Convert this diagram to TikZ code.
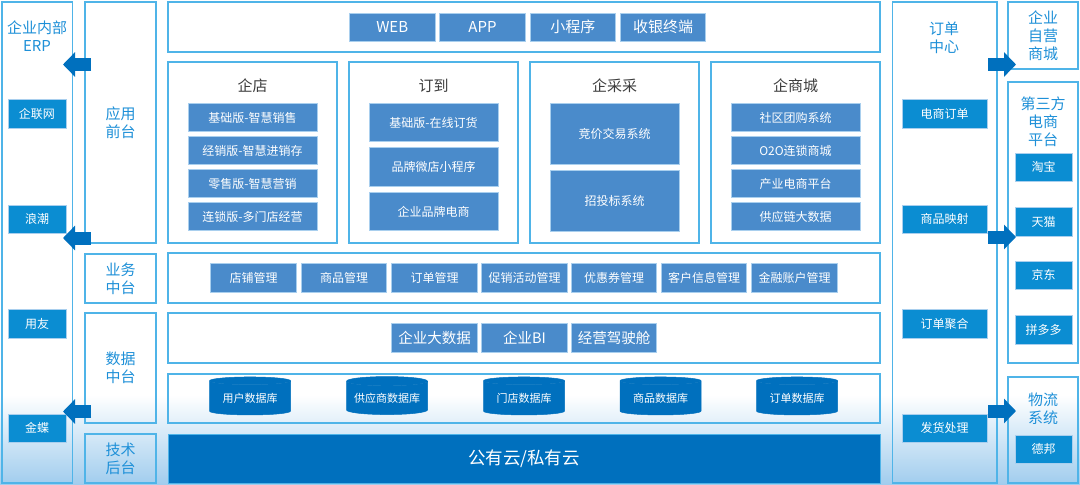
\documentclass[tikz,border=0pt]{standalone}
\usepackage{fontspec}
\usepackage{xcolor}
\setmainfont{Noto Sans CJK SC}
\usetikzlibrary{shapes.geometric, arrows.meta, positioning, calc}
\definecolor{framec}{HTML}{4FB4E8}
\definecolor{cellc}{HTML}{4A8BCB}
\definecolor{celledge}{HTML}{A9CFEE}
\definecolor{tealc}{HTML}{0B8DD2}
\definecolor{darkc}{HTML}{0070BE}
\definecolor{titlec}{HTML}{1E90D8}
\definecolor{headc}{HTML}{3C3C3C}
\tikzset{
  frame/.style={draw=framec, line width=1.2pt, inner sep=0pt, outer sep=0pt, text=titlec, align=center, font=\fontsize{15}{18}\selectfont},
  cell/.style={draw=celledge, line width=0.7pt, fill=cellc, text=white, inner sep=0pt, outer sep=0pt, font=\fontsize{12}{14}\selectfont},
  tealcell/.style={draw=celledge, line width=0.5pt, fill=tealc, text=white, inner sep=0pt, outer sep=0pt, minimum height=28.5pt, font=\fontsize{12}{14}\selectfont},
  heading/.style={text=headc, inner sep=0pt, font=\fontsize{15}{18}\selectfont},
  paneltitle/.style={text=titlec, inner sep=0pt, align=center, font=\fontsize{15}{18}\selectfont},
  database/.style={cylinder, shape border rotate=90, aspect=0.14, cylinder uses custom fill, cylinder body fill=darkc, cylinder end fill=darkc, draw=darkc, line width=0.5pt, text=white, inner sep=0pt, outer sep=0pt, minimum width=81pt, minimum height=38pt, font=\fontsize{11}{13}\selectfont},
  bigarrow/.style={darkc, line width=13pt, -{Triangle[length=12pt,width=24pt]}}
}

\begin{document}
\begin{tikzpicture}[x=1pt,y=-1pt]
\useasboundingbox (0,0) rectangle (1080,485);
% Background
\fill[white] (0,0) rectangle (1080,485);
\shade[top color=white, bottom color=celledge!90!framec] (0,395) rectangle (1080,485);
% Left panel
\node[frame, minimum width=70.5pt, minimum height=481pt] (erp) at (37.25,242.5) {};
\node[paneltitle] (erptitle) at (37,36.5) {企业内部\\ERP};
\foreach \i/\y/\txt in {1/113.5/企联网, 2/219/浪潮, 3/323.5/用友, 4/428/金蝶}
  \node[tealcell, minimum width=58pt] (erp\i) at (37,\y) {\txt};
% Layer titles
\node[frame, minimum width=71pt, minimum height=241pt] (front) at (120.5,122.5) {应用\\前台};
\node[frame, minimum width=71pt, minimum height=49pt] (middle) at (120.5,278.5) {业务\\中台};
\node[frame, minimum width=71pt, minimum height=110pt] (data) at (120.5,368) {数据\\中台};
\node[frame, minimum width=71pt, minimum height=49pt] (tech) at (120.5,458.5) {技术\\后台};
% Terminals
\node[frame, minimum width=712pt, minimum height=50pt] (termrow) at (524,27) {};
\foreach \i/\x/\txt in {1/392.25/WEB, 2/482.5/APP, 3/572.75/小程序, 4/663/收银终端}
  \node[cell, minimum width=85.5pt, minimum height=28.5pt, font=\fontsize{15}{18}\selectfont] (term\i) at (\x,27.25) {\txt};
% Products
\foreach \n/\x/\txt in {store/252.5/企店, order/433.5/订到, buy/614.5/企采采, mall/795.5/企商城} {
  \node[frame, minimum width=169pt, minimum height=181pt] (\n) at (\x,152.5) {};
  \node[heading] (\n title) at (\x,86) {\txt};
}
\foreach \i/\y/\txt in {1/117.5/基础版-智慧销售, 2/150.5/经销版-智慧进销存, 3/183.5/零售版-智慧营销, 4/216.5/连锁版-多门店经营}
  \node[cell, minimum width=129pt, minimum height=28pt] (store\i) at (252.5,\y) {\txt};
\foreach \i/\y/\txt in {1/122.5/基础版-在线订货, 2/167/品牌微店小程序, 3/211.5/企业品牌电商}
  \node[cell, minimum width=129pt, minimum height=38.5pt] (order\i) at (433.5,\y) {\txt};
\foreach \i/\y/\txt in {1/133.5/竞价交易系统, 2/200.5/招投标系统}
  \node[cell, minimum width=129pt, minimum height=61pt] (buy\i) at (614.5,\y) {\txt};
\foreach \i/\y/\txt in {1/117.5/社区团购系统, 2/150.5/O2O连锁商城, 3/183.5/产业电商平台, 4/216.5/供应链大数据}
  \node[cell, minimum width=129pt, minimum height=28pt] (mall\i) at (795.5,\y) {\txt};
% Business row
\node[frame, minimum width=712pt, minimum height=50pt] (bizrow) at (524,278) {};
\foreach \i/\x/\txt in {1/253.5/店铺管理, 2/344/商品管理, 3/434.5/订单管理, 4/524.5/促销活动管理, 5/614/优惠券管理, 6/704/客户信息管理, 7/794.5/金融账户管理}
  \node[cell, minimum width=85.5pt, minimum height=28.5pt] (biz\i) at (\x,278) {\txt};
% Data row
\node[frame, minimum width=712pt, minimum height=50pt] (datarow) at (524,338) {};
\foreach \i/\x/\txt in {1/434.5/企业大数据, 2/524.5/企业BI, 3/614/经营驾驶舱}
  \node[cell, minimum width=85.5pt, minimum height=28.5pt, font=\fontsize{14.5}{17}\selectfont] (bi\i) at (\x,338) {\txt};
% Databases
\node[frame, minimum width=712pt, minimum height=49pt] (dbrow) at (524,398.5) {};
\foreach \i/\x/\txt in {1/250/用户数据库, 2/387/供应商数据库, 3/524/门店数据库, 4/660.5/商品数据库, 5/797/订单数据库}
  \node[database] (db\i) at (\x,398) {\txt};
% Cloud
\node[draw=framec, line width=0.6pt, fill=darkc, text=white, inner sep=0pt, outer sep=0pt, minimum width=712pt, minimum height=49pt, font=\fontsize{17.5}{20}\selectfont] (cloud) at (524,458.5) {公有云/私有云};
% Order centre
\node[frame, minimum width=104.5pt, minimum height=481pt] (oc) at (944.75,242.5) {};
\node[paneltitle] (octitle) at (944,37.5) {订单\\中心};
\foreach \i/\y/\txt in {1/113.5/电商订单, 2/219/商品映射, 3/323.5/订单聚合, 4/428/发货处理}
  \node[tealcell, minimum width=85pt] (oc\i) at (944.5,\y) {\txt};
% Right panels
\node[frame, minimum width=70pt, minimum height=67pt] (own) at (1043,35.5) {企业\\自营\\商城};
\node[frame, minimum width=70pt, minimum height=281pt] (third) at (1043,222.5) {};
\node[paneltitle] (thirdtitle) at (1043,122) {第三方\\电商\\平台};
\foreach \i/\y/\txt in {1/167/淘宝, 2/221.5/天猫, 3/275/京东, 4/329.5/拼多多}
  \node[tealcell, minimum width=57pt] (shop\i) at (1043.5,\y) {\txt};
\node[frame, minimum width=70pt, minimum height=106pt] (logi) at (1043,430) {};
\node[paneltitle] (logititle) at (1043,408.5) {物流\\系统};
\node[tealcell, minimum width=57pt] (debang) at (1043.5,449) {德邦};
% Arrows
\foreach \i/\y in {1/64.5, 2/238, 3/411.5} {
  \coordinate (lefttail\i) at (91,\y);
  \coordinate (lefttip\i) at (63,\y);
  \draw[bigarrow] (lefttail\i) -- (lefttip\i);
}
\foreach \i/\y in {1/64.5, 2/237, 3/411} {
  \coordinate (righttail\i) at (988,\y);
  \coordinate (righttip\i) at (1016,\y);
  \draw[bigarrow] (righttail\i) -- (righttip\i);
}
\end{tikzpicture}
\end{document}
